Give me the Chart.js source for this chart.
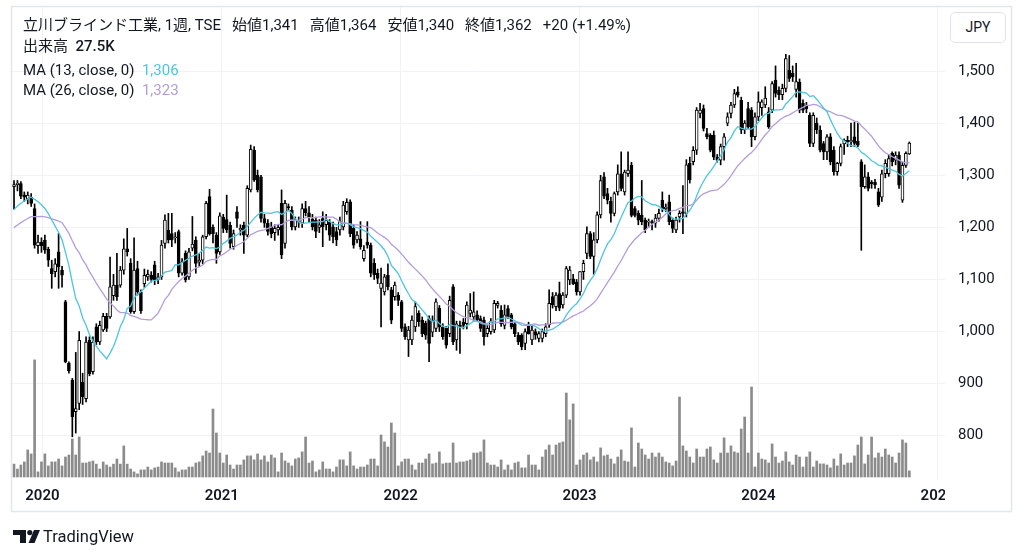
<!DOCTYPE html>
<html>
<head>
<meta charset="utf-8">
<script src="https://cdn.jsdelivr.net/npm/chart.js@4.4.1/dist/chart.umd.min.js"></script>
<style>
html, body { margin: 0; padding: 0; background: #fff; }
#wrap { position: relative; width: 1024px; height: 557px; overflow: hidden; color: #131722;
        font-family: Roboto, "Noto Sans CJK JP", sans-serif; }
#chart { position: absolute; left: 0; top: 0; }
.hd { position: absolute; left: 23px; white-space: pre; font-size: 15px; line-height: 18px; }
.hd .it { margin-left: 11px; }
#jpy { position: absolute; left: 950px; top: 12px; width: 54px; height: 29px; border: 1px solid #e0e3eb;
       border-radius: 5px; font-size: 14px; line-height: 29px; text-align: center; background: #fff; }
#logo { position: absolute; left: 13px; top: 526px; height: 20px; display: flex; align-items: center; }
#logo span { font-size: 16.5px; margin-left: 3px; font-family: Roboto, sans-serif; }
</style>
</head>
<body>
<div id="wrap">
  <canvas id="chart" width="1024" height="557"></canvas>
  <div class="hd" style="top:16px">立川ブラインド工業, 1週, TSE<span class="it">始値1,341</span><span class="it">高値1,364</span><span class="it">安値1,340</span><span class="it">終値1,362</span><span class="it">+20 (+1.49%)</span></div>
  <div class="hd" style="top:37px">出来高  <span style="font-weight:500">27.5K</span></div>
  <div class="hd" style="top:61px">MA (13, close, 0)  <span style="color:#4cc6dc">1,306</span></div>
  <div class="hd" style="top:81px">MA (26, close, 0)  <span style="color:#b39ddb">1,323</span></div>
  <div id="jpy">JPY</div>
  <div id="logo">
    <svg width="27" height="13" viewBox="0 0 27 13">
      <path d="M0 0H13V13H7V5H0Z" fill="#131722"/>
      <circle cx="16.8" cy="2.6" r="2.6" fill="#131722"/>
      <path d="M21 0H27L21.5 13H15.5Z" fill="#131722"/>
    </svg>
    <span>TradingView</span>
  </div>
</div>
<script>
// weekly bars, first bar = week of 2019-11-04
const firstWeek = Date.UTC(2019, 10, 4);

const opens = [
  1278,1282,1284,1262,1255,1258,1236,1165,1172,1175,
  1158,1121,1115,1153,1118,1057,939,907,846,862,
  903,871,983,923,1009,980,1003,1029,1028,1069,
  1089,1089,1118,1159,1131,1038,1121,1076,1092,1105,
  1108,1128,1100,1105,1169,1195,1188,1180,1192,1112,
  1150,1105,1160,1175,1133,1137,1182,1259,1200,1185,
  1153,1220,1215,1204,1163,1230,1195,1204,1185,1272,
  1348,1300,1297,1217,1208,1200,1190,1195,1246,1169,
  1240,1233,1201,1210,1208,1236,1228,1216,1214,1200,
  1217,1205,1210,1201,1192,1195,1201,1230,1249,1198,
  1176,1178,1140,1172,1166,1131,1112,1083,1076,1108,
  1080,1067,1070,1057,1009,984,984,1009,1035,1022,
  1016,1025,999,1006,1045,1009,1006,996,1086,984,
  1012,1018,1015,1035,1028,1032,1025,1022,996,1000,
  1003,1050,1041,1012,1044,1032,1015,993,993,977,
  1012,984,1000,987,987,996,1013,1067,1048,1073,
  1051,1070,1099,1101,1095,1076,1115,1150,1188,1144,
  1176,1224,1297,1265,1250,1227,1268,1303,1268,1303,
  1319,1236,1227,1223,1214,1210,1211,1208,1217,1252,
  1236,1249,1214,1195,1220,1230,1227,1323,1326,1348,
  1419,1428,1380,1377,1377,1335,1329,1355,1400,1419,
  1435,1460,1444,1387,1428,1425,1374,1412,1430,1435,
  1422,1425,1483,1463,1455,1467,1502,1496,1465,1479,
  1438,1435,1415,1361,1400,1387,1361,1345,1374,1348,
  1307,1323,1360,1367,1364,1374,1365,1326,1278,1297,
  1287,1287,1268,1258,1303,1303,1342,1329,1339,1252,
  1319,1341
];
const highs = [
  1290,1290,1288,1268,1268,1265,1245,1185,1180,1185,
  1162,1137,1140,1188,1125,1060,942,910,960,1000,
  920,990,990,990,1015,1020,1035,1035,1143,1110,
  1150,1125,1178,1198,1140,1180,1135,1080,1120,1118,
  1115,1135,1112,1175,1224,1227,1227,1190,1195,1140,
  1155,1160,1221,1182,1150,1185,1250,1273,1205,1190,
  1228,1225,1262,1210,1195,1240,1205,1210,1280,1358,
  1355,1310,1300,1225,1215,1210,1205,1205,1272,1252,
  1245,1240,1220,1220,1245,1250,1240,1225,1220,1215,
  1230,1225,1215,1210,1200,1220,1250,1255,1253,1205,
  1192,1211,1165,1211,1170,1140,1120,1122,1110,1130,
  1085,1095,1075,1060,1015,1010,1030,1057,1040,1028,
  1020,1030,1030,1063,1050,1015,1010,1068,1090,1020,
  1020,1025,1057,1073,1076,1040,1030,1028,1012,1025,
  1060,1058,1050,1051,1050,1035,1018,998,996,1005,
  1018,1010,1005,1000,1005,1015,1080,1075,1075,1095,
  1075,1125,1125,1110,1100,1115,1137,1201,1192,1190,
  1230,1300,1305,1275,1258,1268,1320,1345,1310,1345,
  1325,1240,1232,1290,1218,1216,1214,1225,1235,1268,
  1245,1262,1218,1220,1232,1280,1330,1335,1355,1430,
  1438,1435,1390,1380,1385,1340,1360,1380,1420,1440,
  1465,1470,1450,1405,1440,1430,1420,1460,1445,1470,
  1430,1480,1510,1470,1475,1532,1530,1510,1515,1485,
  1445,1440,1420,1420,1410,1395,1365,1378,1380,1355,
  1325,1360,1370,1375,1400,1402,1400,1330,1320,1305,
  1290,1292,1275,1310,1330,1340,1345,1345,1345,1325,
  1345,1364
];
const lows = [
  1235,1270,1255,1250,1245,1240,1160,1150,1152,1150,
  1125,1083,1105,1083,1085,940,920,798,805,850,
  860,865,915,918,975,975,1000,1000,1025,1060,
  1060,1085,1110,1145,1035,1035,1070,1035,1085,1098,
  1095,1090,1092,1100,1160,1170,1163,1170,1105,1108,
  1095,1100,1155,1112,1125,1130,1178,1185,1170,1131,
  1148,1190,1190,1160,1158,1200,1185,1150,1182,1268,
  1288,1268,1210,1200,1185,1180,1175,1185,1140,1160,
  1232,1195,1195,1200,1200,1222,1210,1195,1180,1190,
  1163,1195,1175,1170,1165,1185,1195,1225,1182,1160,
  1170,1158,1135,1160,1105,1100,1092,1009,1070,1080,
  1015,1060,1050,1000,985,952,975,1000,1010,990,
  985,942,990,1000,1000,985,968,990,975,964,
  958,1005,1005,1028,1020,1020,1000,974,990,995,
  998,1045,1010,1005,1025,1005,990,975,965,965,
  995,975,985,980,980,990,1008,1045,1040,1040,
  1045,1065,1090,1090,1070,1070,1100,1140,1140,1110,
  1170,1218,1255,1245,1210,1222,1262,1270,1262,1298,
  1220,1220,1205,1205,1190,1200,1195,1200,1212,1230,
  1230,1205,1190,1190,1210,1188,1220,1285,1320,1340,
  1410,1385,1370,1345,1330,1325,1320,1329,1395,1410,
  1430,1450,1380,1380,1390,1355,1368,1405,1415,1430,
  1390,1420,1450,1445,1445,1460,1480,1480,1450,1420,
  1420,1420,1355,1355,1380,1345,1330,1330,1320,1300,
  1300,1318,1340,1355,1355,1355,1355,1156,1275,1270,
  1275,1275,1240,1250,1295,1298,1318,1320,1275,1248,
  1315,1340
];
const closes = [
  1282,1285,1260,1258,1262,1246,1166,1172,1165,1156,
  1137,1111,1130,1124,1108,942,925,836,852,983,
  875,980,919,980,980,1012,1029,1006,1086,1089,
  1067,1118,1159,1153,1038,1118,1076,1040,1108,1110,
  1100,1099,1105,1166,1214,1176,1176,1182,1112,1134,
  1099,1153,1168,1131,1137,1182,1246,1188,1188,1150,
  1222,1198,1195,1169,1188,1217,1198,1185,1275,1350,
  1291,1272,1217,1208,1192,1188,1198,1200,1147,1246,
  1238,1201,1214,1212,1236,1228,1220,1201,1192,1205,
  1201,1214,1185,1182,1176,1211,1243,1248,1188,1166,
  1185,1163,1156,1166,1112,1109,1102,1093,1105,1086,
  1022,1089,1060,1006,990,1003,1022,1048,1019,996,
  993,977,1022,1057,1009,990,974,1060,980,1015,
  1009,1012,1051,1041,1038,1022,1006,990,1006,1019,
  1054,1054,1015,1032,1028,1009,996,980,971,1000,
  996,1003,993,996,1000,1009,1054,1051,1070,1045,
  1070,1121,1118,1092,1076,1115,1131,1188,1144,1176,
  1224,1290,1260,1252,1227,1265,1303,1275,1306,1310,
  1223,1223,1214,1211,1195,1211,1208,1218,1227,1236,
  1239,1211,1198,1214,1227,1227,1320,1291,1348,1425,
  1425,1390,1374,1348,1335,1329,1355,1374,1412,1435,
  1457,1454,1387,1400,1393,1374,1412,1441,1441,1448,
  1393,1476,1457,1455,1467,1524,1486,1489,1480,1425,
  1425,1428,1361,1415,1387,1348,1345,1374,1326,1307,
  1323,1355,1367,1364,1367,1361,1358,1278,1297,1275,
  1284,1282,1243,1303,1323,1332,1326,1339,1281,1319,
  1342,1362
];
// weekly volume, thousands of shares
const volumes = [
  58,36,54,68,122,104,527,23,68,104,
  50,68,68,81,50,90,99,171,99,180,
  63,63,68,72,58,36,68,54,45,58,
  81,58,140,58,36,23,14,32,32,45,
  32,41,45,68,63,63,63,41,23,32,
  32,45,45,63,68,95,117,108,306,198,
  108,63,99,54,36,54,54,77,95,95,
  77,104,77,95,68,99,86,23,108,72,
  63,50,81,86,113,180,63,72,23,32,
  68,36,36,23,45,77,77,50,113,50,
  36,45,45,54,81,81,50,189,158,135,
  243,198,50,68,81,81,54,32,63,63,
  81,104,59,63,113,59,63,63,153,63,
  68,68,72,77,108,108,113,167,63,54,
  54,45,77,32,54,32,63,68,41,41,
  99,54,54,32,90,122,144,99,144,153,
  158,378,257,329,54,77,99,108,77,90,
  68,131,95,99,81,59,90,122,72,68,
  221,45,153,126,99,81,108,90,108,90,
  68,63,50,72,360,140,117,90,63,126,
  90,90,126,135,77,63,108,176,108,140,
  113,108,216,270,108,405,45,108,81,77,
  63,149,90,63,72,113,68,54,99,90,
  45,90,113,45,72,59,59,54,41,81,
  50,104,54,63,63,95,144,180,59,99,
  180,86,108,90,126,99,90,63,108,167,
  153,27.5
];
// closes of the 25 weeks before the first bar (only feed the moving averages)
const preCloses = [
  1150,1145,1155,1160,1150,1165,1170,1160,1175,1180,1170,1185,1180,
  1190,1195,1200,1210,1205,1220,1230,1240,1250,1265,1270,1285
];
const yearLabels = ['2020', '2021', '2022', '2023', '2024', '2025'];
const priceTicks = [800, 900, 1000, 1100, 1200, 1300, 1400, 1500];

const allCloses = preCloses.concat(closes);
function movingAverage(n) {
  return closes.map((c, i) => {
    const k = i + preCloses.length;
    let s = 0;
    for (let j = k - n + 1; j <= k; j++) s += allCloses[j];
    return { x: i, y: s / n };
  });
}

const yearPos = yearLabels.map(y => (Date.UTC(+y, 0, 1) - firstWeek) / (7 * 864e5));

const wickData = lows.map((l, i) => ({ x: i, y: [l, highs[i]] }));
const bodyData = opens.map((o, i) => ({ x: i, y: [o, closes[i]] }));
const bodyFill = opens.map((o, i) => closes[i] >= o ? '#ffffff' : '#000000');
const volData = volumes.map((v, i) => ({ x: i, y: v }));

const gridColor = '#f0f2f5';

// no extra room for edge labels: the plot must span exactly 6..480
function noPad(s) {
  s.paddingTop = 0; s.paddingBottom = 0; s.paddingLeft = 0; s.paddingRight = 0;
}

const extras = {
  id: 'extras',
  afterDraw(chart) {
    const ctx = chart.ctx;
    const area = chart.chartArea;
    const xs = chart.scales.x;
    // year labels, cut at the price scale like the original
    ctx.save();
    ctx.beginPath();
    ctx.rect(area.left, area.bottom, area.right - area.left, 32);
    ctx.clip();
    ctx.font = '600 15px Roboto, sans-serif';
    ctx.fillStyle = '#131722';
    ctx.textAlign = 'center';
    ctx.textBaseline = 'middle';
    yearPos.forEach((v, k) => ctx.fillText(yearLabels[k], xs.getPixelForValue(v), 496));
    ctx.restore();
    // outer frame
    ctx.save();
    ctx.strokeStyle = '#e3e6ec';
    ctx.lineWidth = 1.5;
    ctx.strokeRect(11.5, 6.5, 1000, 505);
    ctx.restore();
  }
};

new Chart(document.getElementById('chart').getContext('2d'), {
  type: 'bar',
  data: {
    datasets: [
      { type: 'line', data: movingAverage(13), borderColor: '#4cc6dc', borderWidth: 1.3,
        pointRadius: 0, order: 0, yAxisID: 'y' },
      { type: 'line', data: movingAverage(26), borderColor: '#b39ddb', borderWidth: 1.3,
        pointRadius: 0, order: 0, yAxisID: 'y' },
      { data: bodyData, backgroundColor: bodyFill, borderColor: '#000000', borderWidth: 1,
        borderSkipped: false, barThickness: 3, minBarLength: 1, grouped: false, order: 1, yAxisID: 'y' },
      { data: wickData, backgroundColor: '#000000', barThickness: 1, grouped: false, order: 2, yAxisID: 'y' },
      { data: volData, backgroundColor: '#8b8b8b', barThickness: 2, grouped: false, order: 3, yAxisID: 'vol' }
    ]
  },
  options: {
    responsive: false,
    animation: false,
    events: [],
    layout: { padding: { left: 10, right: 12, top: 6, bottom: 45 } },
    plugins: { legend: { display: false }, tooltip: { enabled: false } },
    scales: {
      x: {
        type: 'linear', min: -1.17, max: 271.4, offset: false,
        afterBuildTicks: s => { s.ticks = yearPos.map(v => ({ value: v })); },
        afterFit: s => { s.height = 32; noPad(s); },
        ticks: { display: false },
        grid: { color: gridColor, drawTicks: false, offset: false },
        border: { display: false }
      },
      y: {
        position: 'right', min: 715, max: 1625,
        afterBuildTicks: s => { s.ticks = priceTicks.map(v => ({ value: v })); },
        afterFit: s => { s.width = 67; noPad(s); },
        ticks: { padding: 13, color: '#131722', font: { family: 'Roboto, sans-serif', size: 15 },
                 callback: v => v.toLocaleString('en-US') },
        grid: { color: gridColor, drawTicks: false },
        border: { display: false }
      },
      vol: { display: false, min: -13.5, max: 2119.5 }
    }
  },
  plugins: [extras]
});
</script>
</body>
</html>
